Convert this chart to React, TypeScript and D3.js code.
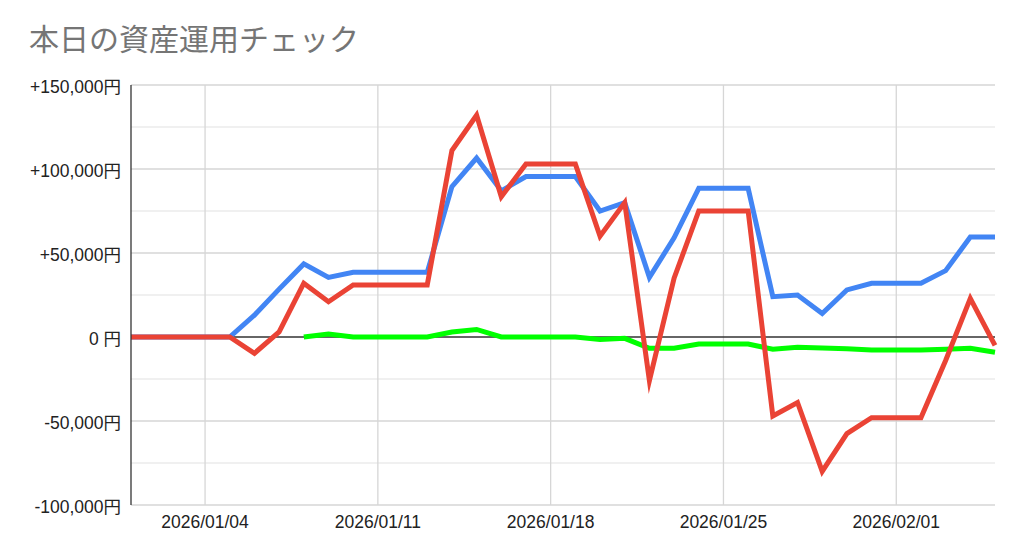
import React from "react";
import * as d3 from "d3";

const dates: string[] = [
  "2026-01-01","2026-01-02","2026-01-03","2026-01-04","2026-01-05","2026-01-06",
  "2026-01-07","2026-01-08","2026-01-09","2026-01-10","2026-01-11","2026-01-12",
  "2026-01-13","2026-01-14","2026-01-15","2026-01-16","2026-01-17","2026-01-18",
  "2026-01-19","2026-01-20","2026-01-21","2026-01-22","2026-01-23","2026-01-24",
  "2026-01-25","2026-01-26","2026-01-27","2026-01-28","2026-01-29","2026-01-30",
  "2026-01-31","2026-02-01","2026-02-02","2026-02-03","2026-02-04","2026-02-05",
];

const blueValues: (number | null)[] = [
  0, 0, 0, 0, 0, 13000, 28500, 43500, 35500, 38500, 38500, 38500,
  38500, 89500, 106500, 87000, 95500, 95500, 95500, 75000, 80000, 35500, 59000, 88500,
  88500, 88500, 24000, 25000, 14000, 28000, 32000, 32000, 32000, 39500, 59500, 59500,
];

const redValues: (number | null)[] = [
  0, 0, 0, 0, 0, -9700, 3000, 32000, 21000, 31000, 31000, 31000,
  31000, 111000, 132000, 83500, 103000, 103000, 103000, 60000, 80000, -26000, 35000, 75000,
  75000, 75000, -47000, -39000, -80000, -57500, -48000, -48000, -48000, -14000, 23000, -5000,
];

const greenValues: (number | null)[] = [
  null, null, null, null, null, null, null, 0, 1800, 0, 0, 0,
  0, 3000, 4500, 0, 0, 0, 0, -1500, -800, -6700, -6700, -4200,
  -4200, -4200, -7300, -6100, -6500, -7000, -7700, -7700, -7700, -7300, -6700, -9100,
];

const yTicks: number[] = [-100000, -50000, 0, 50000, 100000, 150000];
const yMinorTicks: number[] = [-75000, -25000, 25000, 75000, 125000];
const xTickDates: string[] = ["2026-01-04", "2026-01-11", "2026-01-18", "2026-01-25", "2026-02-01"];

const title = "本日の資産運用チェック";

const parse = (s: string) => {
  const [y, m, d] = s.split("-").map(Number);
  return new Date(y, m - 1, d);
};

const fmtY = (v: number) => {
  if (v === 0) return "0 円";
  const s = d3.format(",")(Math.abs(v));
  return (v > 0 ? "+" : "-") + s + "円";
};
const fmtX = d3.timeFormat("%Y/%m/%d");

export default function App() {
  const W = 1024, H = 560;
  const left = 131, right = 995, top = 85, bottom = 505;
  const parsed = dates.map(parse);
  const x = d3.scaleTime().domain([parsed[0], parsed[parsed.length - 1]]).range([left, right]);
  const y = d3.scaleLinear().domain([-100000, 150000]).range([bottom, top]);

  const mkLine = (vals: (number | null)[]) =>
    d3
      .line<number>()
      .defined((_, i) => vals[i] !== null)
      .x((_, i) => x(parsed[i]))
      .y((_, i) => y(vals[i] as number))(vals.map((_, i) => i)) || "";

  const series = [
    { vals: blueValues, color: "#4285F4" },
    { vals: greenValues, color: "#00FF00" },
    { vals: redValues, color: "#EA4335" },
  ];

  const labelFont = "'Liberation Sans', Arial, 'Noto Sans CJK JP', sans-serif";

  return (
    <svg
      width={W}
      height={H}
      style={{ position: "absolute", left: 0, top: 0, background: "#fff" }}
    >
      <rect x={0} y={0} width={W} height={H} fill="#fff" />
      <text
        x={29}
        y={50}
        fontSize={30}
        fill="#757575"
        fontFamily="'Noto Sans CJK JP', 'Noto Sans', sans-serif"
      >
        {title}
      </text>

      {yMinorTicks.map((t) => (
        <line key={"m" + t} x1={left} x2={right} y1={y(t)} y2={y(t)} stroke="#ebebeb" strokeWidth={1.3} />
      ))}
      {yTicks.filter((t) => t !== 0).map((t) => (
        <line key={"g" + t} x1={left} x2={right} y1={y(t)} y2={y(t)} stroke="#d6d6d6" strokeWidth={1.3} />
      ))}
      {xTickDates.map((s) => (
        <line key={"v" + s} x1={x(parse(s))} x2={x(parse(s))} y1={top} y2={bottom} stroke="#d6d6d6" strokeWidth={1.3} />
      ))}
      <line x1={left} x2={right} y1={y(0)} y2={y(0)} stroke="#333" strokeWidth={1.3} />

      {series.map((s, i) => (
        <path
          key={i}
          d={mkLine(s.vals)}
          fill="none"
          stroke={s.color}
          strokeWidth={5}
          strokeLinejoin="miter"
          strokeMiterlimit={10}
        />
      ))}

      <line x1={left} x2={left} y1={top} y2={bottom} stroke="#333" strokeWidth={1.3} />

      {yTicks.map((t) => (
        <text
          key={"yl" + t}
          x={121}
          y={y(t) + 7.5}
          textAnchor="end"
          fontSize={17.5}
          fill="#222"
          fontFamily={labelFont}
        >
          {fmtY(t)}
        </text>
      ))}
      {xTickDates.map((s) => (
        <text
          key={"xl" + s}
          x={x(parse(s))}
          y={528}
          textAnchor="middle"
          fontSize={17.5}
          fill="#222"
          fontFamily={labelFont}
        >
          {fmtX(parse(s))}
        </text>
      ))}
    </svg>
  );
}
